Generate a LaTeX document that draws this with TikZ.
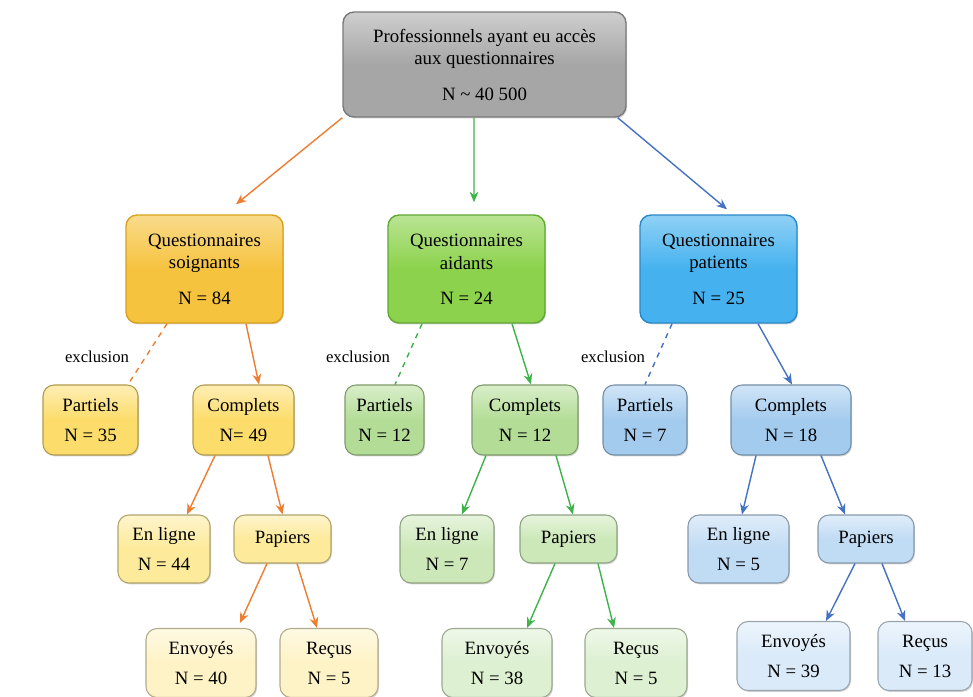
\documentclass[tikz,border=0pt]{standalone}
\usepackage{fontspec}
\setmainfont{Liberation Serif}
\usetikzlibrary{shadows,arrows.meta}
\definecolor{cgray}{HTML}{A6A6A6}
\definecolor{cgrayd}{HTML}{7A7A7A}
\definecolor{cy1}{HTML}{F6C33F}
\definecolor{cy1d}{HTML}{D9A21C}
\definecolor{cg1}{HTML}{8CD24C}
\definecolor{cg1d}{HTML}{5FA832}
\definecolor{cb1}{HTML}{45B2EF}
\definecolor{cb1d}{HTML}{2A88C8}
\definecolor{cy2}{HTML}{FCDC6A}
\definecolor{cg2}{HTML}{B3DD96}
\definecolor{cb2}{HTML}{A3CBEE}
\definecolor{cy3}{HTML}{FDEA9A}
\definecolor{cg3}{HTML}{CCE8B9}
\definecolor{cb3}{HTML}{C0DBF4}
\definecolor{cy4}{HTML}{FEF3C6}
\definecolor{cg4}{HTML}{DDF0D1}
\definecolor{cb4}{HTML}{DAEAF9}
\definecolor{aor}{HTML}{ED7D31}
\definecolor{agr}{HTML}{3DB34A}
\definecolor{abl}{HTML}{4472C4}
\begin{document}
\begin{tikzpicture}[x=0.02cm,y=-0.02cm,
  box/.style={rounded corners=0.22cm, align=center, inner sep=0pt,
    font=\fontsize{10.7}{17}\selectfont,
    drop shadow={shadow xshift=0.6pt,shadow yshift=-0.8pt,opacity=0.35}},
  bigbox/.style={box, font=\fontsize{10.7}{13}\selectfont, minimum height=2.16cm},
  ybox/.style={draw=cy1d, line width=0.8pt, top color=cy1!60!white, bottom color=cy1, middle color=cy1},
  gbox/.style={draw=cg1d, line width=0.8pt, top color=cg1!60!white, bottom color=cg1, middle color=cg1},
  bbox/.style={draw=cb1d, line width=0.8pt, top color=cb1!60!white, bottom color=cb1, middle color=cb1},
  shade2/.style={draw=#1!70!black, line width=0.6pt, top color=#1!50!white, bottom color=#1, middle color=#1},
  conn/.style={line width=0.8pt, -{Stealth[length=6pt,width=5pt]}},
  excl/.style={line width=0.8pt, dashed},
  lbl/.style={font=\fontsize{9.5}{11}\selectfont, inner sep=0pt}]
\useasboundingbox (0,0) rectangle (973,696);

% top
\node[box, font=\fontsize{10.7}{13}\selectfont, minimum width=5.66cm, minimum height=2.1cm,
  draw=cgrayd, line width=0.8pt, top color=cgray!55!white, bottom color=cgray, middle color=cgray]
  (top) at (484.5,64.5) {Professionnels ayant eu accès\\aux questionnaires\\[7pt]N \textasciitilde{} 40 500};

% level 2
\node[bigbox, ybox, minimum width=3.14cm] (soig) at (204.5,269) {Questionnaires\\soignants\\[7pt]N = 84};
\node[bigbox, gbox, minimum width=3.14cm] (aid) at (466.5,269) {Questionnaires\\aidants\\[7pt]N = 24};
\node[bigbox, bbox, minimum width=3.14cm] (pat) at (718.5,269) {Questionnaires\\patients\\[7pt]N = 25};

% level 3
\node[box, shade2=cy2, minimum width=1.9cm, minimum height=1.4cm] (partS) at (90.5,420) {Partiels\\N = 35};
\node[box, shade2=cy2, minimum width=2.02cm, minimum height=1.4cm] (compS) at (243.5,420) {Complets\\N= 49};
\node[box, shade2=cg2, minimum width=1.58cm, minimum height=1.4cm] (partA) at (384.5,420) {Partiels\\N = 12};
\node[box, shade2=cg2, minimum width=2.12cm, minimum height=1.4cm] (compA) at (525,420) {Complets\\N = 12};
\node[box, shade2=cb2, minimum width=1.68cm, minimum height=1.4cm] (partP) at (645,420) {Partiels\\N = 7};
\node[box, shade2=cb2, minimum width=2.4cm, minimum height=1.4cm] (compP) at (791,420) {Complets\\N = 18};

\node[lbl] (exS) at (97,357) {exclusion};
\node[lbl] (exA) at (358,357) {exclusion};
\node[lbl] (exP) at (613,357) {exclusion};

% level 4
\node[box, shade2=cy3, minimum width=1.84cm, minimum height=1.36cm] (enS) at (164,549) {En ligne\\N = 44};
\node[box, shade2=cy3, minimum width=1.94cm, minimum height=0.96cm] (papS) at (282.5,539) {Papiers};
\node[box, shade2=cg3, minimum width=1.88cm, minimum height=1.36cm] (enA) at (447,549) {En ligne\\N = 7};
\node[box, shade2=cg3, minimum width=1.94cm, minimum height=0.96cm] (papA) at (568.5,539) {Papiers};
\node[box, shade2=cb3, minimum width=2.02cm, minimum height=1.36cm] (enP) at (738.5,549) {En ligne\\N = 5};
\node[box, shade2=cb3, minimum width=1.92cm, minimum height=0.96cm] (papP) at (866,539) {Papiers};

% level 5
\node[box, shade2=cy4, minimum width=2.2cm, minimum height=1.38cm] (envS) at (201,663) {Envoyés\\N = 40};
\node[box, shade2=cy4, minimum width=1.96cm, minimum height=1.38cm] (recS) at (329,663) {Reçus\\N = 5};
\node[box, shade2=cg4, minimum width=2.2cm, minimum height=1.38cm] (envA) at (497,663) {Envoyés\\N = 38};
\node[box, shade2=cg4, minimum width=2.04cm, minimum height=1.38cm] (recA) at (636,663) {Reçus\\N = 5};
\node[box, shade2=cb4, minimum width=2.26cm, minimum height=1.38cm] (envP) at (793.5,656) {Envoyés\\N = 39};
\node[box, shade2=cb4, minimum width=1.88cm, minimum height=1.38cm] (recP) at (925,656) {Reçus\\N = 13};

% connectors top
\draw[conn, aor] (top.south west) -- ([xshift=0.63cm,yshift=0.2cm]soig.north);
\draw[conn, agr] ([xshift=-0.21cm]top.south) -- ([xshift=0.15cm,yshift=0.24cm]aid.north);
\draw[conn, abl] ([xshift=-0.18cm]top.south east) -- ([xshift=0.17cm,yshift=0.1cm]pat.north);

% soignants
\draw[excl, aor] ([xshift=-0.75cm]soig.south) -- ([xshift=0.75cm]partS.north);
\draw[conn, aor] ([xshift=0.83cm]soig.south) -- ([xshift=0.31cm]compS.north);
\draw[conn, aor] ([xshift=-0.57cm]compS.south) -- ([xshift=0.46cm]enS.north);
\draw[conn, aor] ([xshift=0.49cm]compS.south) -- (papS.north);
\draw[conn, aor] ([xshift=-0.31cm]papS.south) -- ([xshift=0.78cm,yshift=0.1cm]envS.north);
\draw[conn, aor] ([xshift=0.29cm]papS.south) -- ([xshift=-0.24cm]recS.north);

% aidants
\draw[excl, agr] ([xshift=-0.89cm]aid.south) -- ([xshift=0.21cm]partA.north);
\draw[conn, agr] ([xshift=0.91cm]aid.south) -- ([xshift=0.12cm]compA.north);
\draw[conn, agr] ([xshift=-0.78cm]compA.south) -- ([xshift=0.3cm]enA.north);
\draw[conn, agr] ([xshift=0.62cm]compA.south) -- ([xshift=0.09cm]papA.north);
\draw[conn, agr] ([xshift=-0.27cm]papA.south) -- ([xshift=0.6cm]envA.north);
\draw[conn, agr] ([xshift=0.59cm]papA.south) -- ([xshift=-0.44cm]recA.north);

% patients
\draw[excl, abl] ([xshift=-0.93cm]pat.south) -- (partP.north);
\draw[conn, abl] ([xshift=0.79cm]pat.south) -- ([xshift=0.02cm]compP.north);
\draw[conn, abl] ([xshift=-0.7cm]compP.south) -- ([xshift=0.07cm]enP.north);
\draw[conn, abl] ([xshift=0.6cm]compP.south) -- ([xshift=-0.42cm]papP.north);
\draw[conn, abl] ([xshift=-0.22cm]papP.south) -- ([xshift=0.65cm]envP.north);
\draw[conn, abl] ([xshift=0.32cm]papP.south) -- ([xshift=-0.4cm]recP.north);
\end{tikzpicture}
\end{document}
